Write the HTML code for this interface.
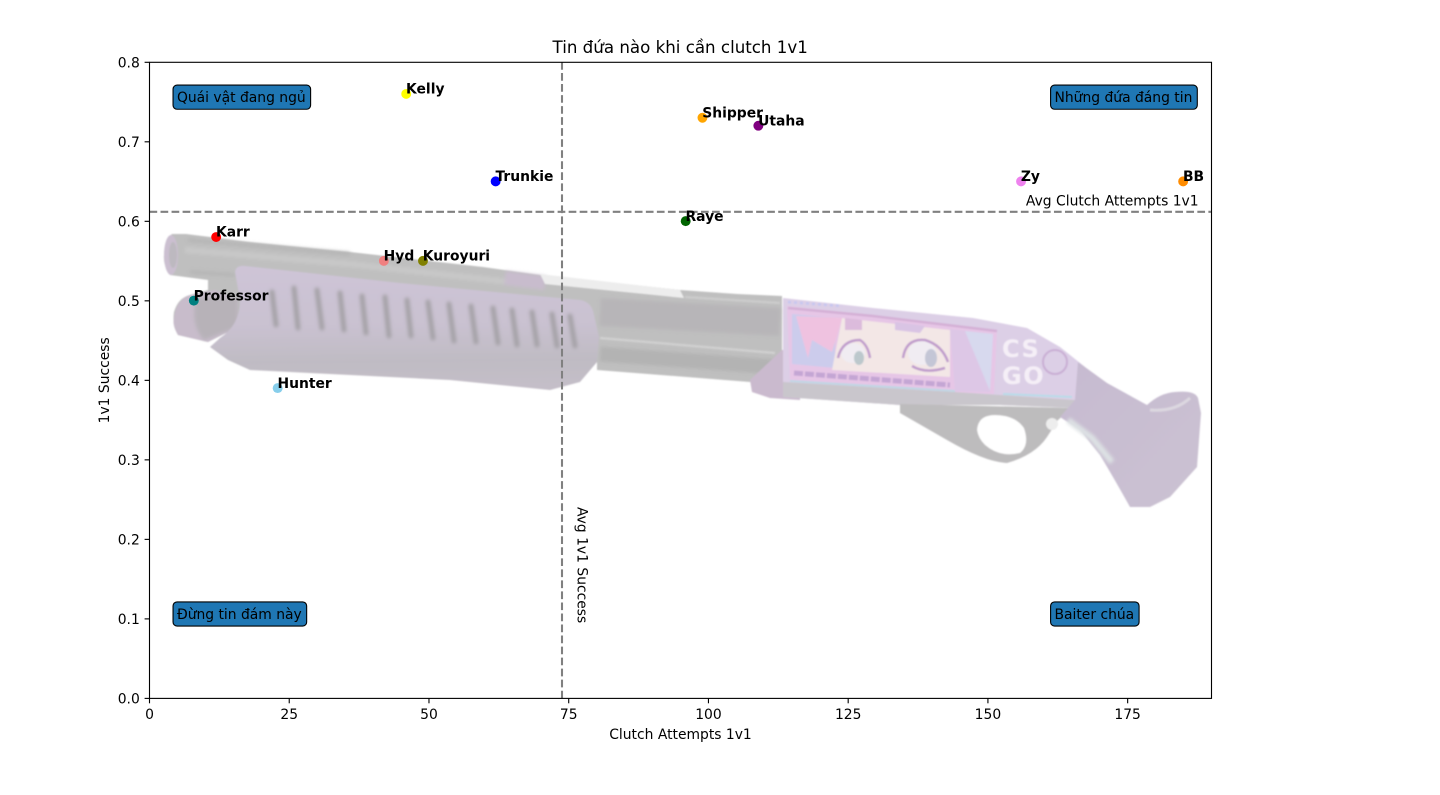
<!DOCTYPE html>
<html lang="vi">
<head>
<meta charset="utf-8">
<title>Tin đứa nào khi cần clutch 1v1</title>
<style>
html,body{margin:0;padding:0;background:#fff;width:1440px;height:795px;overflow:hidden}
svg{display:block}
text{font-family:"DejaVu Sans","Liberation Sans","Noto Sans CJK SC",sans-serif;font-size:13.89px;fill:#000}
</style>
</head>
<body>
<svg id="chart" xmlns="http://www.w3.org/2000/svg" width="1440" height="795" viewBox="0 0 1440 795">
<defs>
<filter id="soft" x="-5%" y="-5%" width="110%" height="110%"><feGaussianBlur stdDeviation="0.8"/></filter>
<filter id="softer" x="-20%" y="-20%" width="140%" height="140%"><feGaussianBlur stdDeviation="1.6"/></filter>
<linearGradient id="guardFill" x1="0" y1="0" x2="0.03" y2="1">
<stop offset="0" stop-color="#cec4d7"/><stop offset="0.5" stop-color="#c9c1d0"/><stop offset="0.78" stop-color="#bfbbc3"/><stop offset="1" stop-color="#c4bec8"/>
</linearGradient>
<linearGradient id="stockFill" x1="0" y1="0" x2="1" y2="1">
<stop offset="0" stop-color="#c6bad0"/><stop offset="1" stop-color="#cbc2d2"/>
</linearGradient>
</defs>

<g id="gun-image" filter="url(#soft)">
<path fill="#bfbfbf" d="M164,255 Q165,240 172,234 L186,234 L250,242 L350,252 L483,267 L540,275 L680,290 L737,294 L782,296 L782,380 L750,382 L687,377 L597,370 L597,345 L300,345 L238,327 L208,342 L178,335 Q172,325 174,312 Q178,298 190,295 L208,290 L208,280 L170,275 Q163,265 164,255 Z"/>
<g filter="url(#softer)">
<path fill="none" stroke="#c8c8c8" stroke-width="6" d="M185,250 L350,264 L510,282"/>
<path fill="none" stroke="#b6b6b6" stroke-width="4" d="M188,240 L350,254 M190,272 L235,275"/>
<path fill="none" stroke="#c8bccd" stroke-width="14" d="M505,278 L545,283"/>
<path fill="none" stroke="#b7b5b8" stroke-width="28" d="M600,312 L780,322"/>
<path fill="none" stroke="#b3b3b3" stroke-width="15" d="M600,354 L775,367"/>
</g>
<path fill="#ededed" d="M540,274 L680,290 L684,298 L545,284 Z"/>
<path fill="none" stroke="#cfcfcf" stroke-width="2.5" d="M600,338 L775,353"/>
<path fill="none" stroke="#cbcbcb" stroke-width="2.5" d="M685,297 L780,303"/>
<ellipse cx="171" cy="255" rx="7" ry="20" fill="#cbbfd0"/>
<ellipse cx="173" cy="255" rx="4" ry="13" fill="#bdb9c0"/>
<path fill="#c8bccb" d="M174,318 Q176,300 190,295 L215,290 L238,300 L238,327 L208,342 L178,335 Q172,325 174,318 Z"/>
<path fill="#b0afb1" d="M196,298 L238,296 L238,327 L204,340 Q190,325 196,298 Z" opacity="0.7" filter="url(#softer)"/>
<path fill="url(#guardFill)" d="M235,272 Q236,265 245,266 L400,283 L580,300 Q592,302 594,315 L599,337 L597,362 L580,382 L550,390 L450,380 L250,370 L228,360 L210,347 L220,338 Q240,325 240,300 Z"/>
<path filter="url(#softer)" fill="none" stroke="#a5a2a7" stroke-width="5" stroke-linecap="round" d="M272,292 L276,325 M294,288 L298,328 M317,290 L322,328 M340,293 L344,330 M362,296 L366,333 M385,297 L389,336 M407,300 L411,336 M428,302 L433,338 M449,304 L454,341 M471,306 L476,342 M493,308 L498,343 M512,310 L517,345 M532,312 L537,345 M552,314 L557,346 M570,316 L575,346"/>
<path fill="#cabace" d="M782,350 L750,380 L752,392 L770,398 L800,400 L800,350 Z"/>
<path fill="#dccfe6" d="M783,298 L873,308 L973,318 L1027,328 L1060,347 L1085,367 L1075,408 L1000,405 L900,405 L783,397 Z"/>
<path fill="#c9c6cc" d="M783,382 L955,392 L1075,400 L1075,408 L1000,405 L900,405 L783,397 Z"/>
<path fill="#bdbcbd" fill-rule="evenodd" d="M900,404 L1072,408 L1058,420 L1047,437 Q1035,455 1007,463 Q985,462 947,440 L900,413 Z M977,430 Q978,415 995,415 Q1015,415 1024,428 Q1030,445 1020,453 Q1000,458 985,445 Q978,438 977,430 Z"/>
<path fill="url(#stockFill)" d="M1078,362 L1107,383 L1147,405 Q1160,393 1175,392 Q1195,390 1198,398 L1201,413 L1197,467 L1170,497 L1150,507 L1130,507 Q1115,480 1100,455 L1080,430 L1060,417 L1075,400 Z"/>
<path fill="none" stroke="#dde2e4" stroke-width="6" filter="url(#softer)" d="M1068,420 L1092,438 L1112,462"/>
<path fill="none" stroke="#dcd7e0" stroke-width="3" d="M1150,410 Q1175,412 1190,398"/>
<path fill="#e6c6e6" d="M787,306 L873,315 L955,325 L997,331 L994,394 L955,392 L790,382 Z"/>
<path fill="#ccccec" d="M792,314 L835,318 L835,368 L792,364 Z"/>
<path fill="#efc2e0" d="M796,316 L842,318 L832,352 L812,340 L808,358 Z"/>
<path fill="#f3e7e6" d="M842,318 L950,330 L950,377 L832,370 Z"/>
<path fill="#ddc7e6" d="M950,329 L993,334 L990,392 L955,391 Z"/>
<path fill="#d7d9ee" d="M965,331 L993,334 L990,391 Z"/>
<path fill="#dcbbdc" d="M845,318 L862,320 L862,330 L845,330 Z"/>
<path fill="#d9c4e4" d="M895,322 L925,326 L920,333 L895,330 Z"/>
<g>
<ellipse cx="853" cy="353" rx="12" ry="10" fill="#f0ecf2"/>
<path fill="none" stroke="#c09ccc" stroke-width="2.5" d="M838,358 Q842,340 860,340 Q868,345 870,358"/>
<ellipse cx="859" cy="358" rx="5" ry="7" fill="#bcc8cc"/>
</g>
<g>
<ellipse cx="922" cy="353" rx="14" ry="12" fill="#f0ecf2"/>
<path fill="none" stroke="#c09ccc" stroke-width="2.5" d="M903,358 Q906,338 925,340 Q942,345 948,362 M912,366 Q925,374 945,368"/>
<ellipse cx="931" cy="358" rx="6" ry="9" fill="#c4c6d6"/>
</g>
<path fill="none" stroke="#c4a6d4" stroke-width="5" stroke-dasharray="9 2" d="M794,373 L950,385"/>
<path fill="none" stroke="#bfd7e4" stroke-width="2" d="M790,381 L955,391"/>
<path fill="none" stroke="#d4b0d6" stroke-width="2.5" d="M788,308 L873,316 L997,331"/>
<path fill="none" stroke="#c6c6f0" stroke-width="2.5" stroke-dasharray="3 3" d="M788,302 L842,306"/>
<text x="1002" y="357" style="font-size:24px;font-weight:bold;fill:#f5eff7;letter-spacing:1.5px">CS</text>
<text x="1002" y="384" style="font-size:24px;font-weight:bold;fill:#f5eff7;letter-spacing:1.5px">GO</text>
<circle cx="1055" cy="362" r="12" fill="none" stroke="#c9aed4" stroke-width="2"/>
<path fill="none" stroke="#b8dce8" stroke-width="2" d="M1003,394 L1072,397"/>
<circle cx="1052" cy="424" r="6" fill="#ededed"/>
</g>

<g id="plot-layer"></g>
</svg>

<script>
const playerNames = ["Karr","Professor","Hunter","Hyd","Kelly","Kuroyuri","Trunkie","Raye","Shipper","Utaha","Zy","BB"];
const clutchAttempts = [12,8,23,42,46,49,62,96,99,109,156,185];
const successRates = [0.58,0.50,0.39,0.55,0.76,0.55,0.65,0.60,0.73,0.72,0.65,0.65];
const pointColors = ["#ff0000","#008080","#87ceeb","#f08080","#ffff00","#808000","#0000ff","#006400","#ffa500","#800080","#ee82ee","#ff8c00"];
const xTickValues = [0,25,50,75,100,125,150,175];
const yTickValues = [0,0.1,0.2,0.3,0.4,0.5,0.6,0.7,0.8];
const yTickLabels = ["0.0","0.1","0.2","0.3","0.4","0.5","0.6","0.7","0.8"];
const xDomain = [0,190];
const yDomain = [0,0.8];
const avgClutchAttempts = 73.8;
const avgSuccess = 0.612;
const quadrantLabels = ["Quái vật đang ngủ","Những đứa đáng tin","Đừng tin đám này","Baiter chúa"];
const quadrantX = [5,162,5,162];
const quadrantY = [0.75,0.75,0.1,0.1];

const plotLeft = 149.5, plotRight = 1211.5, plotTop = 62.3, plotBottom = 698.4;
const NS = "http://www.w3.org/2000/svg";
const layer = document.getElementById("plot-layer");

function xScale(v){ return plotLeft + (v - xDomain[0]) / (xDomain[1] - xDomain[0]) * (plotRight - plotLeft); }
function yScale(v){ return plotBottom - (v - yDomain[0]) / (yDomain[1] - yDomain[0]) * (plotBottom - plotTop); }
function make(tag, attrs, text){
  const el = document.createElementNS(NS, tag);
  for (const k in attrs) el.setAttribute(k, attrs[k]);
  if (text !== undefined) el.textContent = text;
  layer.appendChild(el);
  return el;
}

/* reference lines */
const hLine = make("line",{x1:plotLeft,x2:plotRight,y1:yScale(avgSuccess),y2:yScale(avgSuccess),stroke:"#808080","stroke-width":2.08,"stroke-dasharray":"7.7 3.33"});


const vLine = make("line",{x1:xScale(avgClutchAttempts),x2:xScale(avgClutchAttempts),y1:plotBottom,y2:plotTop,stroke:"#808080","stroke-width":2.08,"stroke-dasharray":"7.7 3.33"});



/* points */
playerNames.forEach(function(name,i){
  const dot = make("circle",{cx:xScale(clutchAttempts[i])-0.4,cy:yScale(successRates[i])-0.2,r:4.95,fill:pointColors[i]});
  
  
});
playerNames.forEach(function(name,i){
  const label = make("text",{x:xScale(clutchAttempts[i])-0.6,y:yScale(successRates[i])-0.5,style:"font-weight:bold"},name);
  
  
});

/* quadrant boxes */
quadrantLabels.forEach(function(txt,i){
  const tx = xScale(quadrantX[i]), ty = yScale(quadrantY[i]);
  const box = make("rect",{x:tx-4.4,y:ty-17,height:24.2,width:10,rx:4,ry:4,fill:"#1f77b4",stroke:"#000","stroke-width":1.1});
  
  
  const t = make("text",{x:tx-0.5,y:ty},txt);
  
  
  box.setAttribute("width", t.getComputedTextLength() + 8.8);
});

/* average annotations */
const avgYText = make("text",{x:xScale(156.8),y:yScale(0.62)},"Avg Clutch Attempts 1v1");


const avgXText = make("text",{transform:"translate(577.3,507) rotate(90)"},"Avg 1v1 Success");



/* axes frame */
const frame = make("rect",{x:plotLeft,y:plotTop,width:plotRight-plotLeft,height:plotBottom-plotTop,fill:"none",stroke:"#000","stroke-width":1.11});



/* ticks */
xTickValues.forEach(function(v){
  const px = xScale(v);
  const tick = make("line",{x1:px,x2:px,y1:plotBottom,y2:plotBottom+4.9,stroke:"#000","stroke-width":1.11});
  
  
  const lab = make("text",{x:px,y:719,"text-anchor":"middle"},String(v));
  
  
});
yTickValues.forEach(function(v,i){
  const py = yScale(v);
  const tick = make("line",{x1:plotLeft-4.9,x2:plotLeft,y1:py,y2:py,stroke:"#000","stroke-width":1.11});
  
  
  const lab = make("text",{x:139.8,y:py+5.2,"text-anchor":"end"},yTickLabels[i]);
  
  
});

/* titles */
const title = make("text",{x:680.2,y:53,"text-anchor":"middle",style:"font-size:16.67px"},"Tin đứa nào khi cần clutch 1v1");


const xTitle = make("text",{x:680.5,y:739,"text-anchor":"middle"},"Clutch Attempts 1v1");


const yTitle = make("text",{transform:"translate(109,380.3) rotate(-90)","text-anchor":"middle"},"1v1 Success");


</script>
</body>
</html>
